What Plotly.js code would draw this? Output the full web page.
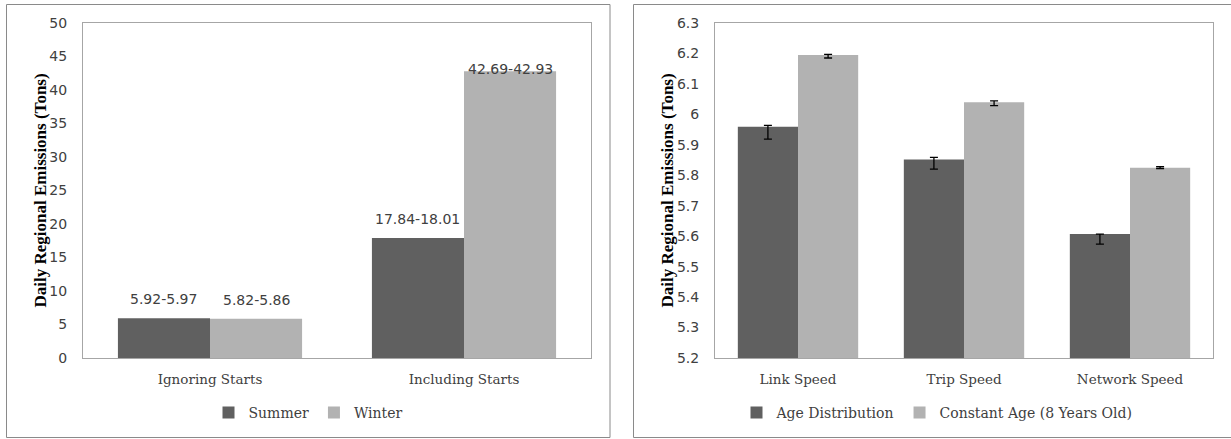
<!DOCTYPE html>
<html>
<head>
<meta charset="utf-8">
<script src="https://cdn.plot.ly/plotly-3.0.1.min.js"></script>
<style>html,body{margin:0;padding:0;background:#fff;}#chart{width:1231px;height:439px;}</style>
</head>
<body>
<div id="chart"></div>
<script>
// ---- Left panel data ----
const leftCategories = ['Ignoring Starts', 'Including Starts'];
const summerValues = [5.945, 17.925];
const winterValues = [5.84, 42.81];
const summerLabels = ['5.92-5.97', '17.84-18.01'];
const winterLabels = ['5.82-5.86', '42.69-42.93'];
const leftTicks = [0, 5, 10, 15, 20, 25, 30, 35, 40, 45, 50];

// ---- Right panel data ----
const rightCategories = ['Link Speed', 'Trip Speed', 'Network Speed'];
const ageDistValues = [5.959, 5.852, 5.607];
const ageDistErrPlus = [0.005, 0.007, 0.0];
const ageDistErrMinus = [0.040, 0.032, 0.033];
const constAgeValues = [6.195, 6.040, 5.825];
const constAgeErrPlus = [0.002, 0.004, 0.003];
const constAgeErrMinus = [0.010, 0.011, 0.003];
const rightTicks = [5.2, 5.3, 5.4, 5.5, 5.6, 5.7, 5.8, 5.9, 6, 6.1, 6.2, 6.3];

const W = 1231, H = 439;
const DARK = '#606060', LIGHT = '#B2B2B2';
const TXT = '#404040';
const BARGAP = 0.275;
const leftRange = [0, 50];

const px = v => v / W, py = v => 1 - v / H;

const traces = [
  {type: 'bar', name: 'Summer', x: leftCategories, y: summerValues, xaxis: 'x', yaxis: 'y',
   marker: {color: DARK}, legend: 'legend', hoverinfo: 'skip'},
  {type: 'bar', name: 'Winter', x: leftCategories, y: winterValues, xaxis: 'x', yaxis: 'y',
   marker: {color: LIGHT}, legend: 'legend', hoverinfo: 'skip'},
  {type: 'bar', name: 'Age Distribution', x: rightCategories, y: ageDistValues, xaxis: 'x2', yaxis: 'y2',
   marker: {color: DARK}, legend: 'legend2', hoverinfo: 'skip',
   error_y: {type: 'data', symmetric: false, array: ageDistErrPlus, arrayminus: ageDistErrMinus,
             color: '#000', thickness: 1.3, width: 4}},
  {type: 'bar', name: 'Constant Age (8 Years Old)', x: rightCategories, y: constAgeValues, xaxis: 'x2', yaxis: 'y2',
   marker: {color: LIGHT}, legend: 'legend2', hoverinfo: 'skip',
   error_y: {type: 'data', symmetric: false, array: constAgeErrPlus, arrayminus: constAgeErrMinus,
             color: '#000', thickness: 1.3, width: 4}}
];

// data labels above left bars
const offset = (1 - BARGAP) / 4;
const annotations = [];
function addLabels(values, labels, sign) {
  values.forEach((v, i) => {
    const nearTop = (leftRange[1] - v) / (leftRange[1] - leftRange[0]) < 0.2;
    annotations.push({
      xref: 'x', yref: 'y', x: i + sign * offset, y: v, text: labels[i],
      showarrow: false, yanchor: 'bottom', yshift: nearTop ? -8 : 9,
      font: {family: 'DejaVu Sans', size: 14, color: TXT}
    });
  });
}
addLabels(summerValues, summerLabels, -1);
addLabels(winterValues, winterLabels, 1);

const titleFont = {family: 'Liberation Serif', size: 17, color: '#000', weight: 'bold'};
annotations.push({xref: 'paper', yref: 'paper', x: px(40), y: py(190.5), text: 'Daily Regional Emissions (Tons)',
  textangle: -90, showarrow: false, xanchor: 'center', yanchor: 'middle', font: titleFont});
annotations.push({xref: 'paper', yref: 'paper', x: px(667), y: py(190.5), text: 'Daily Regional Emissions (Tons)',
  textangle: -90, showarrow: false, xanchor: 'center', yanchor: 'middle', font: titleFont});

const axisLine = '#A6A6A6';
const yDomain = [py(358), py(23)];
const xBase = {showline: true, mirror: true, linecolor: axisLine, linewidth: 1, ticks: '', showgrid: false,
  zeroline: false, tickfont: {family: 'DejaVu Serif', size: 13.5, color: TXT}, ticklabelstandoff: 9, fixedrange: true};
const yBase = {showline: true, mirror: true, linecolor: axisLine, linewidth: 1, ticks: '', showgrid: false,
  zeroline: false, tickfont: {family: 'DejaVu Sans', size: 14, color: TXT}, ticklabelstandoff: 12, fixedrange: true,
  domain: yDomain};

const layout = {
  width: W, height: H,
  margin: {l: 0, r: 0, t: 0, b: 0},
  paper_bgcolor: '#fff', plot_bgcolor: '#fff',
  barmode: 'group', bargap: BARGAP, bargroupgap: 0,
  showlegend: true,
  xaxis: Object.assign({}, xBase, {domain: [px(83), px(591)], anchor: 'y'}),
  yaxis: Object.assign({}, yBase, {anchor: 'x', range: leftRange, tickvals: leftTicks}),
  xaxis2: Object.assign({}, xBase, {domain: [px(715), px(1213)], anchor: 'y2'}),
  yaxis2: Object.assign({}, yBase, {anchor: 'x2', range: [5.2, 6.3], tickvals: rightTicks}),
  legend: {orientation: 'h', x: px(308), xanchor: 'center', y: py(413), yanchor: 'middle',
    font: {family: 'DejaVu Serif', size: 14, color: TXT}, bgcolor: 'rgba(0,0,0,0)', itemwidth: 30},
  legend2: {orientation: 'h', x: px(937), xanchor: 'center', y: py(413), yanchor: 'middle',
    font: {family: 'DejaVu Serif', size: 14, color: TXT}, bgcolor: 'rgba(0,0,0,0)', itemwidth: 30},
  annotations: annotations,
  shapes: [
    {type: 'rect', xref: 'paper', yref: 'paper', x0: px(6.5), x1: px(610), y0: py(437.5), y1: py(4.5),
     line: {color: '#8A8A8A', width: 1}, fillcolor: 'rgba(0,0,0,0)', layer: 'below'},
    {type: 'rect', xref: 'paper', yref: 'paper', x0: px(633.5), x1: px(1240), y0: py(437.5), y1: py(4.5),
     line: {color: '#8A8A8A', width: 1}, fillcolor: 'rgba(0,0,0,0)', layer: 'below'}
  ]
};

Plotly.newPlot('chart', traces, layout, {displayModeBar: false, staticPlot: true});
</script>
</body>
</html>
